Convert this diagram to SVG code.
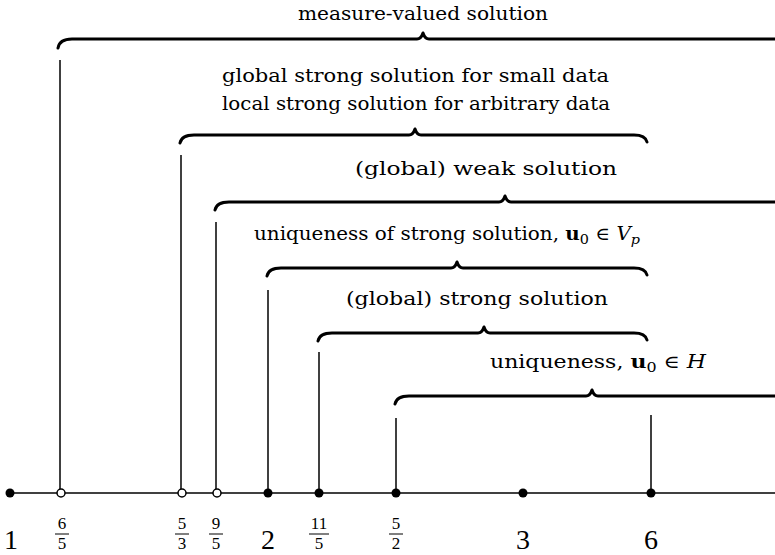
<svg xmlns="http://www.w3.org/2000/svg" width="775" height="555" viewBox="0 0 775 555">
<style>
.lbl{font-family:"DejaVu Serif","Liberation Serif",serif;font-size:18px;fill:#000}
.brace{fill:none;stroke:#000;stroke-width:3;stroke-linecap:round;stroke-linejoin:round}
.tick{stroke:#000;stroke-width:1.5}
.axis{stroke:#000;stroke-width:1.5}
.dot{fill:#000}
.open{fill:#fff;stroke:#000;stroke-width:1.5}
.num{font-family:"Liberation Serif","DejaVu Serif",serif;font-size:17px;text-anchor:middle;fill:#000}
.big{font-family:"Liberation Serif","DejaVu Serif",serif;font-size:28px;text-anchor:middle;fill:#000}
.bar{stroke:#000;stroke-width:1}
.sub{font-size:13px}
</style>
<rect width="775" height="555" fill="#fff"/>

<g id="connectors">
  <line class="tick" x1="60" y1="60" x2="60" y2="493"/>
  <line class="tick" x1="181" y1="155" x2="181" y2="493"/>
  <line class="tick" x1="216" y1="222" x2="216" y2="493"/>
  <line class="tick" x1="268" y1="290" x2="268" y2="493"/>
  <line class="tick" x1="319" y1="352" x2="319" y2="493"/>
  <line class="tick" x1="396" y1="418" x2="396" y2="493"/>
  <line class="tick" x1="651" y1="415" x2="651" y2="493"/>
</g>

<g id="measure-valued">
  <path class="brace" d="M58,48 C59,42 63,39 72,39 L417,39 Q421,39 423,33 Q425,39 429,39 L775,39"/>
  <text class="lbl" x="298" y="20" textLength="250" lengthAdjust="spacingAndGlyphs">measure-valued solution</text>
</g>

<g id="strong-small-local">
  <path class="brace" d="M180,143 C181,138 185,135 194,135 L409,135 Q413,135 415,129 Q417,135 421,135 L634,135 C643,135 646,138 647,142"/>
  <text class="lbl" x="222" y="82" textLength="387" lengthAdjust="spacingAndGlyphs">global strong solution for small data</text>
  <text class="lbl" x="222" y="110" textLength="388" lengthAdjust="spacingAndGlyphs">local strong solution for arbitrary data</text>
</g>

<g id="weak">
  <path class="brace" d="M215,210 C216,205 220,202 229,202 L499,202 Q503,202 505,196 Q507,202 511,202 L775,202"/>
  <text class="lbl" x="355" y="175" textLength="262" lengthAdjust="spacingAndGlyphs">(global) weak solution</text>
</g>

<g id="uniqueness-strong">
  <path class="brace" d="M267,276 C268,271 272,268 281,268 L451,268 Q455,268 457,262 Q459,268 463,268 L634,268 C643,268 646,271 647,275"/>
  <text class="lbl" x="254" y="240" textLength="386" lengthAdjust="spacingAndGlyphs">uniqueness of strong solution, <tspan font-weight="bold">u</tspan><tspan class="sub" dy="4">0</tspan><tspan dy="-4"> ∈ </tspan><tspan font-style="italic">V</tspan><tspan class="sub" font-style="italic" dy="4">p</tspan></text>
</g>

<g id="global-strong">
  <path class="brace" d="M318,341 C319,336 323,333 332,333 L478,333 Q482,333 484,327 Q486,333 490,333 L634,333 C643,333 646,336 647,340"/>
  <text class="lbl" x="346" y="305" textLength="262" lengthAdjust="spacingAndGlyphs">(global) strong solution</text>
</g>

<g id="uniqueness-H">
  <path class="brace" d="M395,404 C396,399 400,396 409,396 L586,396 Q590,396 592,390 Q594,396 598,396 L775,396"/>
  <text class="lbl" x="490" y="368" textLength="216" lengthAdjust="spacingAndGlyphs">uniqueness, <tspan font-weight="bold">u</tspan><tspan class="sub" dy="4">0</tspan><tspan dy="-4"> ∈ </tspan><tspan font-style="italic">H</tspan></text>
</g>

<g id="axis">
  <line class="axis" x1="10" y1="493" x2="775" y2="493"/>
  <circle class="dot" cx="10" cy="493" r="4.5"/>
  <circle class="open" cx="61" cy="493" r="4"/>
  <circle class="open" cx="182" cy="493" r="4"/>
  <circle class="open" cx="217" cy="493" r="4"/>
  <circle class="dot" cx="268" cy="493" r="4.5"/>
  <circle class="dot" cx="319" cy="493" r="4.5"/>
  <circle class="dot" cx="396" cy="493" r="4.5"/>
  <circle class="dot" cx="523" cy="493" r="4.5"/>
  <circle class="dot" cx="651" cy="493" r="4.5"/>
</g>

<g id="labels">
  <text class="big" x="11" y="549">1</text>
  <text class="num" x="62" y="529">6</text><line class="bar" x1="55" y1="534" x2="69" y2="534"/><text class="num" x="62" y="549">5</text>
  <text class="num" x="182" y="529">5</text><line class="bar" x1="175" y1="534" x2="189" y2="534"/><text class="num" x="182" y="549">3</text>
  <text class="num" x="216" y="529">9</text><line class="bar" x1="209" y1="534" x2="223" y2="534"/><text class="num" x="216" y="549">5</text>
  <text class="big" x="268" y="549">2</text>
  <text class="num" x="319" y="529">11</text><line class="bar" x1="309" y1="534" x2="329" y2="534"/><text class="num" x="319" y="549">5</text>
  <text class="num" x="396" y="529">5</text><line class="bar" x1="389" y1="534" x2="403" y2="534"/><text class="num" x="396" y="549">2</text>
  <text class="big" x="523" y="549">3</text>
  <text class="big" x="651" y="549">6</text>
</g>
</svg>
